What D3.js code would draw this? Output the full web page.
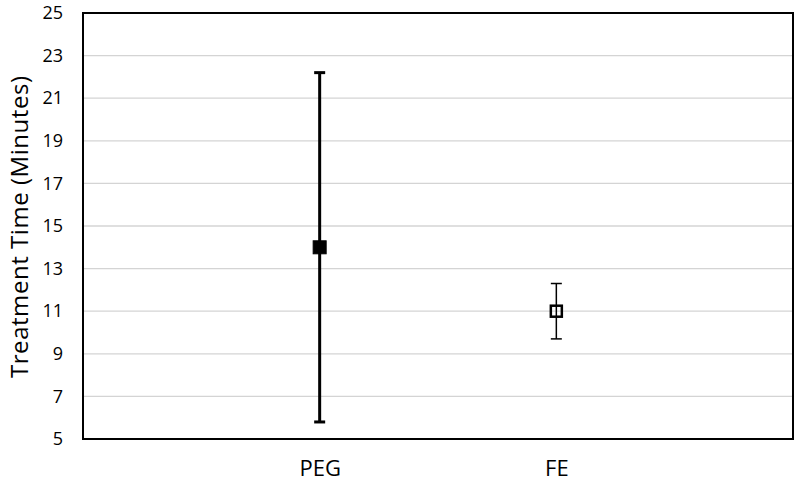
<!DOCTYPE html>
<html>
<head>
<meta charset="utf-8">
<script src="https://cdn.jsdelivr.net/npm/d3@7/dist/d3.min.js"></script>
<style>
  body { margin: 0; background: #fff; }
  svg { display: block; font-family: "Open Sans", "Liberation Sans", sans-serif; }
</style>
</head>
<body>
<div id="chart"></div>
<script>
// Data
const groups = ["PEG", "FE"];
const means = [14, 11];
const lows = [5.8, 9.7];
const highs = [22.2, 12.3];
const filled = [true, false];
const yTicks = [5, 7, 9, 11, 13, 15, 17, 19, 21, 23, 25];

const width = 800, height = 483;
const margin = { top: 13, right: 7, bottom: 44, left: 83 };
const innerW = width - margin.left - margin.right;
const innerH = height - margin.top - margin.bottom;

const svg = d3.select("#chart").append("svg")
    .attr("width", width)
    .attr("height", height);

const g = svg.append("g")
    .attr("transform", `translate(${margin.left},${margin.top})`);

const x = d3.scalePoint().domain(groups).range([0, innerW]).padding(1);
const y = d3.scaleLinear().domain([5, 25]).range([innerH, 0]);

// gridlines
g.selectAll("line.grid")
    .data(yTicks.slice(1, -1))
    .enter().append("line")
    .attr("class", "grid")
    .attr("x1", 0).attr("x2", innerW)
    .attr("y1", d => y(d)).attr("y2", d => y(d))
    .attr("stroke", "#d4d4d4")
    .attr("stroke-width", 1.3);

// y axis labels
const yAxis = g.append("g")
    .call(d3.axisLeft(y).tickValues(yTicks).tickSize(0).tickPadding(20));
yAxis.select(".domain").remove();
yAxis.selectAll("text")
    .style("font-size", "18px")
    .style("font-family", "'Open Sans', sans-serif")
    .attr("fill", "#000");

// x axis labels
const xAxis = g.append("g")
    .attr("transform", `translate(0,${innerH})`)
    .call(d3.axisBottom(x).tickSize(0).tickPadding(21));
xAxis.select(".domain").remove();
xAxis.selectAll("text")
    .style("font-size", "22px")
    .style("font-family", "'Open Sans', sans-serif")
    .attr("fill", "#000");

// frame
g.append("rect")
    .attr("x", 0).attr("y", 0)
    .attr("width", innerW).attr("height", innerH)
    .attr("fill", "none")
    .attr("stroke", "#000")
    .attr("stroke-width", 2);

// y title
svg.append("text")
    .attr("transform", `translate(28,${margin.top + innerH / 2 + 1}) rotate(-90)`)
    .attr("text-anchor", "middle")
    .style("font-size", "24px")
    .attr("textLength", 302)
    .attr("lengthAdjust", "spacing")
    .text("Treatment Time (Minutes)");

const rows = groups.map((k, i) => ({ k, m: means[i], lo: lows[i], hi: highs[i], f: filled[i] }));

const bars = g.selectAll("g.bar")
    .data(rows)
    .enter().append("g")
    .attr("class", "bar")
    .attr("transform", d => `translate(${x(d.k)},0)`);

bars.append("line")
    .attr("y1", d => y(d.lo)).attr("y2", d => y(d.hi))
    .attr("stroke", "#000")
    .attr("stroke-width", d => d.f ? 3 : 1.5);

bars.selectAll("line.cap")
    .data(d => [d.lo, d.hi].map(v => ({ v, f: d.f })))
    .enter().append("line")
    .attr("class", "cap")
    .attr("x1", -5.5).attr("x2", 5.5)
    .attr("y1", d => y(d.v)).attr("y2", d => y(d.v))
    .attr("stroke", "#000")
    .attr("stroke-width", d => d.f ? 3 : 1.5);

bars.append("rect")
    .attr("x", d => d.f ? -6.5 : -5.5)
    .attr("y", d => y(d.m) - (d.f ? 6.5 : 5.5))
    .attr("width", d => d.f ? 13 : 11)
    .attr("height", d => d.f ? 13 : 11)
    .attr("fill", d => d.f ? "#000" : "none")
    .attr("stroke", "#000")
    .attr("stroke-width", d => d.f ? 1 : 2.5);
</script>
</body>
</html>
